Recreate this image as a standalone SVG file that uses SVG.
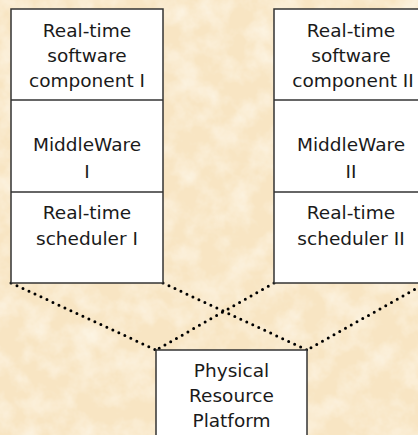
<svg xmlns="http://www.w3.org/2000/svg" width="418" height="435" viewBox="0 0 418 435">
  <defs>
    <!-- mottled parchment backdrop -->
    <filter id="parchment" x="0" y="0" width="100%" height="100%">
      <feTurbulence type="fractalNoise" baseFrequency="0.04" numOctaves="4" seed="7" result="noise"/>
      <feColorMatrix in="noise" type="matrix"
        values="0 0 0 0 1
                0 0 0 0 0.97
                0 0 0 0 0.88
                1.2 0 0 0 -0.45" result="spots"/>
      <feComposite in="spots" in2="SourceGraphic" operator="atop"/>
    </filter>
    <style>
      .box { fill: #ffffff; stroke: #333333; stroke-width: 1.5; }
      .sep { stroke: #333333; stroke-width: 1.5; }
      .link { stroke: #000000; stroke-width: 3; stroke-linecap: round; stroke-dasharray: 0 6.6; fill: none; }
      text { font-family: "DejaVu Sans", Verdana, sans-serif; font-size: 18.5px; fill: #1a1a1a; text-anchor: middle; }
    </style>
  </defs>

  <rect x="0" y="0" width="418" height="435" fill="#f8e5c3" filter="url(#parchment)"/>

  <!-- dotted links between stacks and the platform -->
  <g id="connectors">
    <line class="link" x1="11" y1="283" x2="156" y2="350"/>
    <line class="link" x1="163" y1="283" x2="307" y2="350"/>
    <line class="link" x1="274" y1="283" x2="156" y2="350"/>
    <line class="link" x1="426" y1="283" x2="307" y2="350"/>
  </g>

  <!-- left software stack -->
  <g id="stack-1">
    <rect class="box" x="11" y="9" width="152" height="274"/>
    <line class="sep" x1="11" y1="100" x2="163" y2="100"/>
    <line class="sep" x1="11" y1="192" x2="163" y2="192"/>
    <g id="component-1">
      <text x="87" y="37">Real-time</text>
      <text x="87" y="62">software</text>
      <text x="87" y="87">component I</text>
    </g>
    <g id="middleware-1">
      <text x="87" y="151">MiddleWare</text>
      <text x="87" y="178">I</text>
    </g>
    <g id="scheduler-1">
      <text x="87" y="219">Real-time</text>
      <text x="87" y="245">scheduler I</text>
    </g>
  </g>

  <!-- right software stack -->
  <g id="stack-2">
    <rect class="box" x="274" y="9" width="152" height="274"/>
    <line class="sep" x1="274" y1="100" x2="426" y2="100"/>
    <line class="sep" x1="274" y1="192" x2="426" y2="192"/>
    <g id="component-2">
      <text x="351" y="37">Real-time</text>
      <text x="351" y="62">software</text>
      <text x="353" y="87">component II</text>
    </g>
    <g id="middleware-2">
      <text x="351" y="151">MiddleWare</text>
      <text x="351" y="178">II</text>
    </g>
    <g id="scheduler-2">
      <text x="351" y="219">Real-time</text>
      <text x="351" y="245">scheduler II</text>
    </g>
  </g>

  <!-- shared hardware platform -->
  <g id="platform">
    <rect class="box" x="156" y="350" width="151" height="100"/>
    <text x="231.5" y="377">Physical</text>
    <text x="231.5" y="402">Resource</text>
    <text x="231.5" y="427">Platform</text>
  </g>
</svg>
